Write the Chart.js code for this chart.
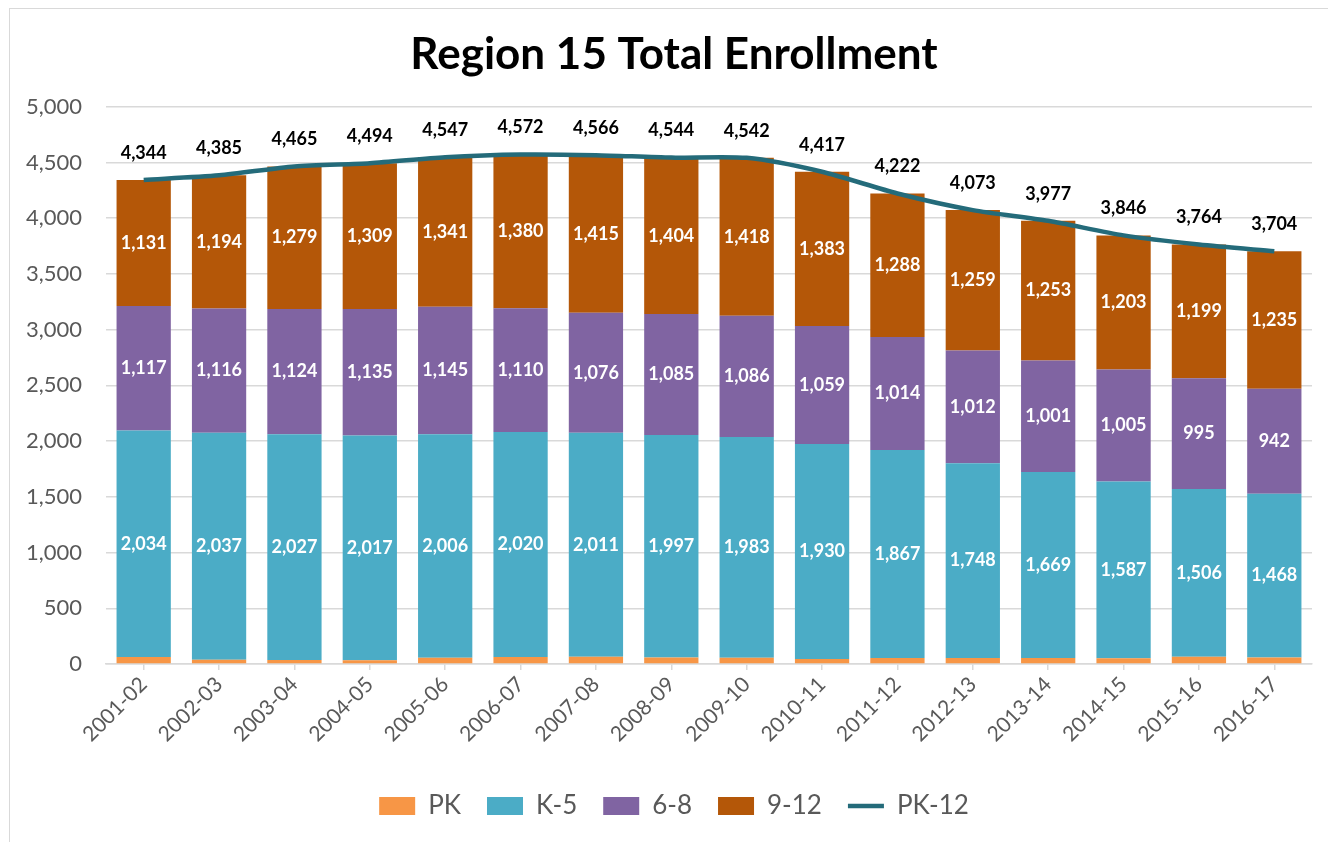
<!DOCTYPE html>
<html>
<head>
<meta charset="utf-8">
<script src="https://cdn.jsdelivr.net/npm/chart.js@4"></script>
<style>
  body { margin: 0; background: #fff; overflow: hidden; }
  #frame { position: absolute; left: 9px; top: 8px; width: 1400px; height: 900px; border: 1.5px solid #d9d9d9; }
  #chart { position: absolute; left: 0; top: 0; }
</style>
</head>
<body>
<div id="frame"></div>
<canvas id="chart" width="1328" height="842"></canvas>
<script>
// School years
const years = ['2001-02', '2002-03', '2003-04', '2004-05', '2005-06', '2006-07', '2007-08', '2008-09',
    '2009-10', '2010-11', '2011-12', '2012-13', '2013-14', '2014-15', '2015-16', '2016-17'];

// Enrollment by grade band
const pk = [62, 38, 35, 33, 55, 62, 64, 58, 55, 45, 53, 54, 54, 51, 64, 59];
const k5 = [2034, 2037, 2027, 2017, 2006, 2020, 2011, 1997, 1983, 1930, 1867, 1748, 1669, 1587, 1506, 1468];
const g68 = [1117, 1116, 1124, 1135, 1145, 1110, 1076, 1085, 1086, 1059, 1014, 1012, 1001, 1005, 995, 942];
const g912 = [1131, 1194, 1279, 1309, 1341, 1380, 1415, 1404, 1418, 1383, 1288, 1259, 1253, 1203, 1199, 1235];
const total = [4344, 4385, 4465, 4494, 4547, 4572, 4566, 4544, 4542, 4417, 4222, 4073, 3977, 3846, 3764, 3704];

const fmt = v => v.toLocaleString('en-US');

// Draw value labels on the bars and above the line
const valueLabels = {
    id: 'valueLabels',
    afterDatasetsDraw(chart) {
        const ctx = chart.ctx;
        ctx.save();
        ctx.textAlign = 'center';
        ctx.textBaseline = 'middle';
        ctx.font = 'bold 18px Lato';
        chart.data.datasets.forEach((ds, i) => {
            if (!ds.showLabels) return;
            const meta = chart.getDatasetMeta(i);
            meta.data.forEach((el, j) => {
                if (ds.type === 'line') {
                    ctx.fillStyle = '#000';
                    ctx.fillText(fmt(ds.data[j]), el.x, el.y - 27);
                } else {
                    ctx.fillStyle = '#fff';
                    ctx.fillText(fmt(ds.data[j]), el.x, (el.y + el.base) / 2);
                }
            });
        });
        ctx.restore();
    }
};

// y labels reach into the left padding, so widen the label clip area
const yLabelRoom = {
    id: 'yLabelRoom',
    afterLayout(chart) {
        chart.scales.y.left = 0;
    }
};

new Chart(document.getElementById('chart'), {
    type: 'bar',
    data: {
        labels: years,
        datasets: [
            { label: 'PK', data: pk, backgroundColor: '#F79646', pointStyle: 'rect', order: 1 },
            { label: 'K-5', data: k5, backgroundColor: '#4BACC6', pointStyle: 'rect', order: 1, showLabels: true },
            { label: '6-8', data: g68, backgroundColor: '#8064A2', pointStyle: 'rect', order: 1, showLabels: true },
            { label: '9-12', data: g912, backgroundColor: '#B45708', pointStyle: 'rect', order: 1, showLabels: true },
            {
                type: 'line', label: 'PK-12', data: total, borderColor: '#246B7A', backgroundColor: '#246B7A',
                borderWidth: 4.5, pointRadius: 0, pointStyle: 'line', tension: 0.25, order: 0, showLabels: true
            }
        ]
    },
    plugins: [valueLabels, yLabelRoom],
    options: {
        responsive: false,
        animation: false,
        datasets: { bar: { barPercentage: 0.72, categoryPercentage: 1 } },
        layout: { padding: { left: 36, right: 16, top: 12, bottom: 13 } },
        plugins: {
            title: {
                display: true,
                text: 'Region 15 Total Enrollment',
                color: '#000',
                font: { family: 'Lato', size: 44, weight: 'bold' },
                padding: { top: 16, bottom: 26 }
            },
            legend: {
                position: 'bottom',
                labels: {
                    usePointStyle: true,
                    pointStyleWidth: 36,
                    boxHeight: 18,
                    color: '#595959',
                    font: { family: 'Lato', size: 26 },
                    padding: 26,
                    sort: (a, b) => a.datasetIndex - b.datasetIndex
                }
            },
            tooltip: { enabled: false }
        },
        scales: {
            x: {
                stacked: true,
                grid: { display: true, drawOnChartArea: false, offset: false, tickLength: 6, color: '#d9d9d9', lineWidth: 1.5 },
                border: { color: '#d9d9d9', width: 1.5 },
                ticks: { color: '#595959', font: { family: 'Lato', size: 21 }, minRotation: 45, maxRotation: 45, padding: 2 },
                afterFit: scale => { scale.height += 18; }
            },
            y: {
                stacked: true,
                min: 0,
                max: 5000,
                grid: { color: '#d9d9d9', lineWidth: 1.5, drawTicks: false },
                border: { display: false },
                ticks: { stepSize: 500, color: '#595959', font: { family: 'Lato', size: 22 }, padding: 24, callback: v => fmt(v) },
                afterFit: scale => { scale.width = 70; }
            }
        }
    }
});
</script>
</body>
</html>
